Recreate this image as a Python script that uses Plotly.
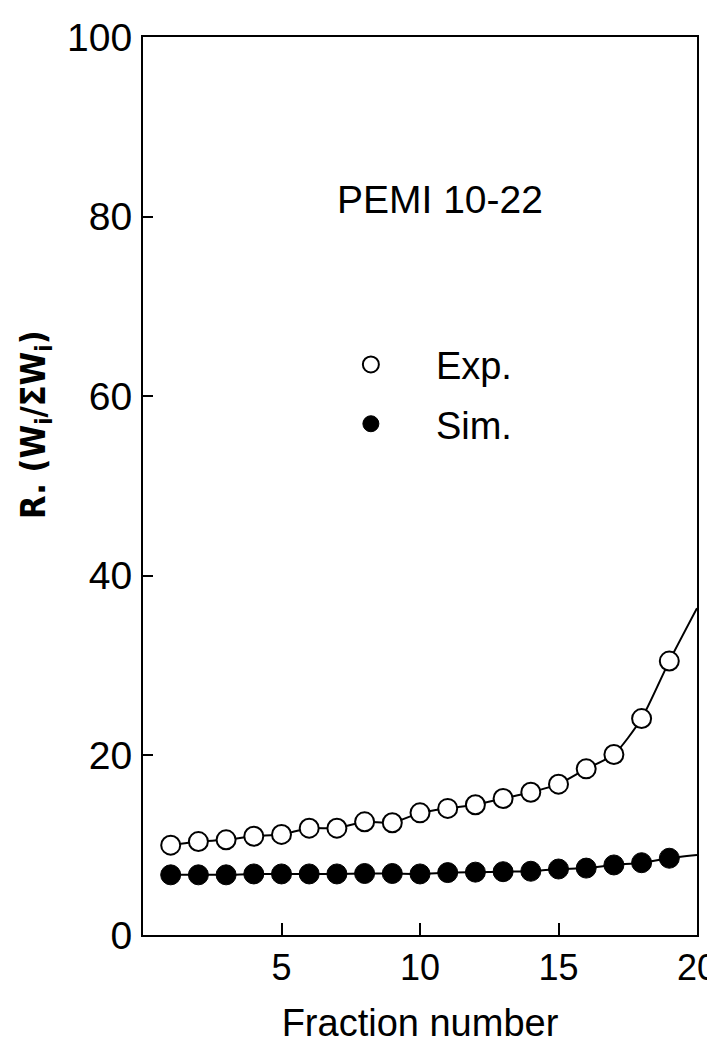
import plotly.graph_objects as go

# Data
fraction = list(range(1, 20))
exp_vals = [10.0, 10.4, 10.6, 11.0, 11.2, 11.9, 11.9, 12.6, 12.5, 13.6,
            14.1, 14.5, 15.2, 15.9, 16.8, 18.5, 20.1, 24.1, 30.5]
sim_vals = [6.7, 6.7, 6.7, 6.8, 6.8, 6.8, 6.8, 6.85, 6.85, 6.8,
            6.95, 7.0, 7.05, 7.1, 7.35, 7.45, 7.8, 8.05, 8.55]
fit_x = list(range(1, 21))
exp_fit = exp_vals + [36.4]
sim_fit = sim_vals + [8.9]

xticks = [5, 10, 15, 20]
yticks = [0, 20, 40, 60, 80, 100]

FONT = "Liberation Sans, Arial, Helvetica, sans-serif"
NARROW = "Liberation Sans Narrow, Arial Narrow, DejaVu Sans Condensed, Liberation Sans, sans-serif"

fig = go.Figure()
fig.add_trace(go.Scatter(x=fit_x, y=exp_fit, mode="lines",
                         line=dict(color="black", width=2, shape="spline", smoothing=0.6),
                         showlegend=False, hoverinfo="skip"))
fig.add_trace(go.Scatter(x=fit_x, y=sim_fit, mode="lines",
                         line=dict(color="black", width=2, shape="spline", smoothing=0.6),
                         showlegend=False, hoverinfo="skip"))
fig.add_trace(go.Scatter(x=fraction, y=exp_vals, mode="markers", name="Exp.",
                         legend="legend",
                         marker=dict(symbol="circle", size=19, color="white",
                                     line=dict(color="black", width=2))))
fig.add_trace(go.Scatter(x=fraction, y=sim_vals, mode="markers", name="Sim.",
                         legend="legend2",
                         marker=dict(symbol="circle", size=20, color="black",
                                     line=dict(color="black", width=1))))

fig.add_annotation(text="PEMI 10-22", x=0.537, y=0.819, xref="paper", yref="paper",
                   xanchor="center", yanchor="middle", showarrow=False,
                   font=dict(family=FONT, size=39, color="black"))

# y-axis title placed as a rotated annotation (it sits above the axis centre)
fig.add_annotation(text="R. (W<sub>i</sub>/ΣW<sub>i</sub>)", x=-0.193, y=0.568,
                   xref="paper", yref="paper", xanchor="center", yanchor="middle",
                   textangle=-90, showarrow=False,
                   font=dict(family=NARROW, size=34, color="black", weight="bold"))

legend_common = dict(xanchor="left", yanchor="middle",
                     font=dict(family=FONT, size=38, color="black"),
                     bgcolor="rgba(0,0,0,0)", itemsizing="trace", itemwidth=120,
                     borderwidth=0)

fig.update_layout(
    width=715, height=1048,
    margin=dict(l=135, r=26, t=29, b=121),
    paper_bgcolor="white", plot_bgcolor="white",
    font=dict(family=FONT, color="black"),
    legend=dict(x=0.294, y=0.635, **legend_common),
    legend2=dict(x=0.294, y=0.569, **legend_common),
    xaxis=dict(range=[0, 20], tickvals=xticks, ticks="inside", ticklen=12, tickwidth=1.5,
               tickcolor="black", showline=True, linecolor="black", linewidth=2,
               mirror=True, showgrid=False, zeroline=False, automargin=False,
               tickfont=dict(family=FONT, size=36), ticklabelstandoff=0,
               title=dict(text="Fraction number", font=dict(family=FONT, size=38), standoff=22)),
    yaxis=dict(range=[0, 100], tickvals=yticks, ticks="inside", ticklen=10, tickwidth=1.5,
               tickcolor="black", showline=True, linecolor="black", linewidth=2,
               mirror=True, showgrid=False, zeroline=False, automargin=False,
               tickfont=dict(family=FONT, size=39), ticklabelstandoff=1),
)

fig.write_html("out.html")
